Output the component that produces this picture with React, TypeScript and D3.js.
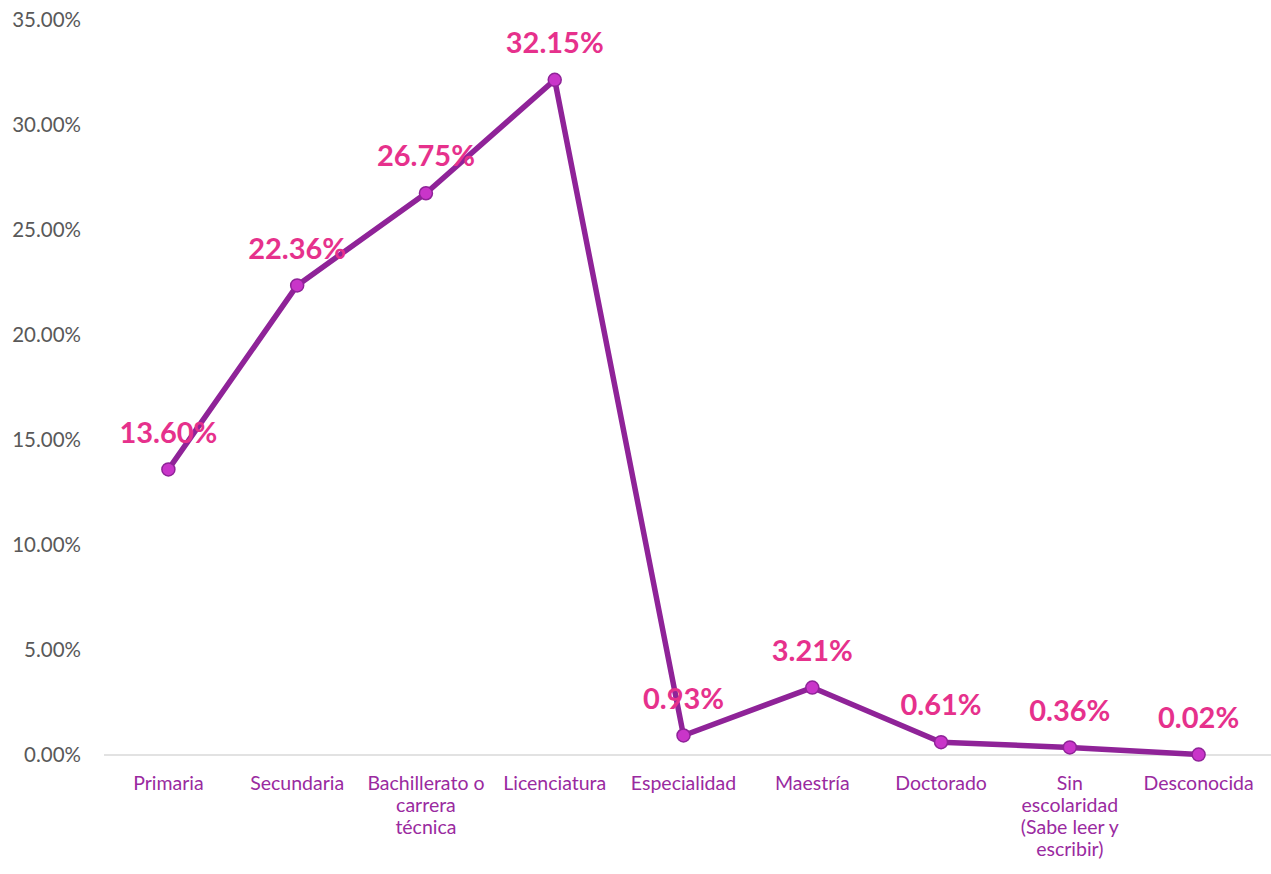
import React, { useEffect, useRef } from 'react'
import * as d3 from 'd3'

const categories: string[][] = [
    ['Primaria'],
    ['Secundaria'],
    ['Bachillerato o', 'carrera', 'técnica'],
    ['Licenciatura'],
    ['Especialidad'],
    ['Maestría'],
    ['Doctorado'],
    ['Sin', 'escolaridad', '(Sabe leer y', 'escribir)'],
    ['Desconocida'],
]
const values = [13.6, 22.36, 26.75, 32.15, 0.93, 3.21, 0.61, 0.36, 0.02]
const yTicks = [0, 5, 10, 15, 20, 25, 30, 35]

const width = 1271
const height = 874
const margin = { top: 20, right: 8, bottom: 119, left: 104 }
const font = 'Lato, "Open Sans", sans-serif'

const LINE = '#8f2398'
const MARKER = '#c935c9'
const LABEL = '#e6318c'
const CAT = '#9a2aa0'

export default function App() {
    const svgRef = useRef<SVGSVGElement | null>(null)

    useEffect(() => {
        const svg = d3.select(svgRef.current)
        svg.selectAll('*').remove()

        const x = d3
            .scaleBand<number>()
            .domain(d3.range(values.length))
            .range([margin.left, width - margin.right])
        const cx = (i: number) => x(i)! + x.bandwidth() / 2

        const y = d3
            .scaleLinear()
            .domain([0, 35])
            .range([height - margin.bottom, margin.top])

        // baseline
        svg.append('line')
            .attr('x1', margin.left)
            .attr('x2', width)
            .attr('y1', y(0))
            .attr('y2', y(0))
            .attr('stroke', '#d9d9d9')
            .attr('stroke-width', 1.5)

        // y tick labels
        svg.append('g')
            .selectAll('text')
            .data(yTicks)
            .join('text')
            .attr('x', 81)
            .attr('y', (d) => y(d))
            .attr('dy', '0.35em')
            .attr('text-anchor', 'end')
            .attr('font-family', font)
            .attr('font-size', 20.5)
            .attr('fill', '#595959')
            .text((d) => d.toFixed(2) + '%')

        // category labels
        const cat = svg.append('g')
            .selectAll('text')
            .data(categories)
            .join('text')
            .attr('text-anchor', 'middle')
            .attr('font-family', font)
            .attr('font-size', 19.5)
            .attr('fill', CAT)
            .attr('transform', (_, i) => `translate(${cx(i)}, ${y(0) + 35})`)
        cat.selectAll('tspan')
            .data((d) => d)
            .join('tspan')
            .attr('x', 0)
            .attr('y', (_, j) => j * 22)
            .text((d) => d)

        // line
        const line = d3
            .line<number>()
            .x((_, i) => cx(i))
            .y((d) => y(d))
        svg.append('path')
            .datum(values)
            .attr('d', line)
            .attr('fill', 'none')
            .attr('stroke', LINE)
            .attr('stroke-width', 5.5)
            .attr('stroke-linejoin', 'round')

        // markers
        svg.append('g')
            .selectAll('circle')
            .data(values)
            .join('circle')
            .attr('cx', (_, i) => cx(i))
            .attr('cy', (d) => y(d))
            .attr('r', 6.5)
            .attr('fill', MARKER)
            .attr('stroke', LINE)
            .attr('stroke-width', 1.5)

        // data labels
        svg.append('g')
            .selectAll('text')
            .data(values)
            .join('text')
            .attr('x', (_, i) => cx(i))
            .attr('y', (d) => y(d) - 37)
            .attr('dy', '0.35em')
            .attr('text-anchor', 'middle')
            .attr('font-family', font)
            .attr('font-size', 29)
            .attr('font-weight', 'bold')
            .attr('fill', LABEL)
            .text((d) => d.toFixed(2) + '%')
    }, [])

    return <svg ref={svgRef} width={width} height={height} style={{ position: 'absolute', left: 0, top: 0 }} />
}
